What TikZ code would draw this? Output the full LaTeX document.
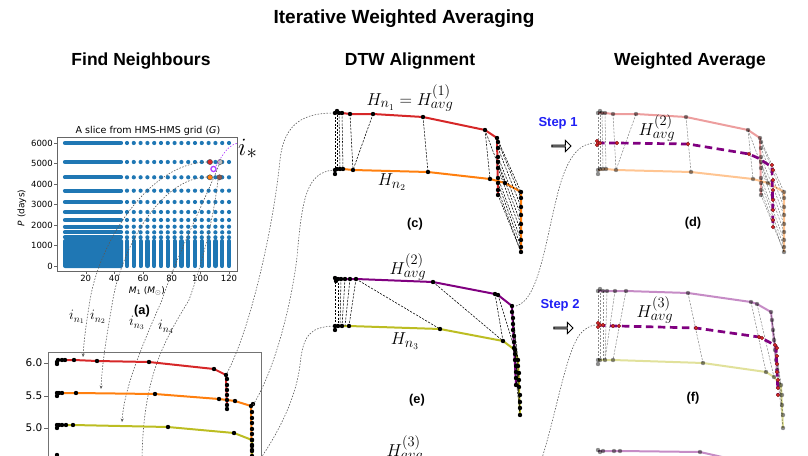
\documentclass[tikz,border=0pt]{standalone}
\usepackage{fontspec}
\usepackage{amsmath}
\newfontfamily\arialfont{Liberation Sans}
\newfontfamily\mplfont{DejaVu Sans}
\usetikzlibrary{calc,arrows.meta,shapes.arrows}

\definecolor{mplblue}{HTML}{1F77B4}
\definecolor{hred}{HTML}{D62728}
\definecolor{horange}{HTML}{FF7F0E}
\definecolor{hgreen}{HTML}{BCBD22}
\definecolor{hpurple}{HTML}{800080}
\definecolor{hbrown}{HTML}{8C564B}
\definecolor{hviolet}{HTML}{B040FF}
\definecolor{stepblue}{HTML}{1F1FF5}

\begin{document}
\begin{tikzpicture}[x=1pt, y=-1pt, >={Stealth[length=3.5pt, width=3pt]},
  heading/.style={font=\arialfont\bfseries\fontsize{19}{23}\selectfont},
  subhead/.style={font=\arialfont\bfseries\fontsize{17.5}{20}\selectfont},
  plabel/.style={font=\arialfont\bfseries\fontsize{12.8}{15}\selectfont},
  steplabel/.style={font=\arialfont\bfseries\fontsize{13}{15}\selectfont, text=stepblue},
  mlabel/.style={font=\fontsize{19}{22}\selectfont, inner sep=0pt},
  nlabel/.style={font=\fontsize{14}{16}\selectfont, inner sep=0pt},
  mpltick/.style={font=\mplfont\fontsize{8.5}{10}\selectfont, inner sep=0.5pt},
  mplbig/.style={font=\mplfont\fontsize{10.5}{12}\selectfont, inner sep=0.5pt},
  hline/.style={line width=2pt, line join=round},
  link/.style={black, line width=0.55pt, dash pattern=on 2.2pt off 1.3pt},
  guide/.style={black!65, line width=0.6pt, dash pattern=on 1.5pt off 1.5pt},
  avgline/.style={hpurple, line width=2.7pt, dash pattern=on 7.5pt off 4.5pt},
  stepmark/.style={single arrow, draw=black, line width=0.9pt, fill=white,
    minimum height=19pt, minimum width=11pt, single arrow head extend=2.5pt, inner sep=0pt},
]
  \useasboundingbox (0,0) rectangle (808,455);
  \clip (0,0) rectangle (808,455);
  % black markers of a curve, given as x/y pairs
  \newcommand{\blackdots}[1]{\foreach \xx/\yy in {#1} \fill (\xx,\yy) circle (2.2pt);}
  % red markers of the averaged curve
  \newcommand{\reddots}[1]{\foreach \xx/\yy in {#1}
    \fill[hred, draw=hred!55!black, line width=0.3pt] (\xx,\yy) circle (1.9pt);}
  % dashed DTW links, given as x1/y1/x2/y2
  \newcommand{\alignlinks}[1]{\foreach \xa/\ya/\xb/\yb in {#1} \draw[link] (\xa,\ya) -- (\xb,\yb);}
  % the aligned pair H_n1 / H_n2
  \newcommand{\pairone}{%
    \draw[hline, hred] plot coordinates {(335,113) (342,113) (350,114) (373,114) (423,117) (485,130) (497,138) (498,195)};
    \draw[hline, horange] plot coordinates {(335,170) (343,169) (353,170) (428,172) (490,179) (505,183) (521,192) (521,252)};
    \alignlinks{335/113/335/170, 337/111/337/169, 339/113/340/169, 342/113/343/169, 350/114/353/170,
      373/114/353/170, 423/117/428/172, 485/130/490/179, 485/130/505/183, 497/138/521/192, 498/142/521/198,
      498/148/521/207, 498/157/521/215, 498/162/521/224, 498/168/521/232, 498/178/521/240, 498/183/521/247,
      498/190/521/252, 498/195/521/252}
    \blackdots{335/113, 337/111, 339/113, 342/113, 350/114, 373/114, 423/117, 485/130, 497/138, 498/142,
      498/148, 498/157, 498/162, 498/168, 498/178, 498/183, 498/190, 498/195}
    \blackdots{335/170, 335/174, 337/169, 340/169, 343/169, 353/170, 428/172, 490/179, 505/183, 521/192,
      521/198, 521/207, 521/215, 521/224, 521/232, 521/240, 521/247, 521/252}
  }
  % ------------------------------------------------------------------ titles
  \node[heading] (title) at (404,19) {Iterative Weighted Averaging};
  \node[subhead] (find) at (141,61) {Find Neighbours};
  \node[subhead] (dtw) at (410,61) {DTW Alignment};
  \node[subhead] (wavg) at (690,61) {Weighted Average};
  % ------------------------------------------------------------------ (a) the grid slice
  \foreach \yy in {143,162,177.3,190.7,202,212,220,226.7,232.3,237.3} {
    \draw[mplblue, line width=4.2pt, line cap=round] (65,\yy) -- (121,\yy);
    \foreach \k in {0,...,15} \fill[mplblue] ({127+6.8*\k},\yy) circle (2.1pt);
  }
  \fill[mplblue, rounded corners=2pt] (63,239) rectangle (123,268);
  \foreach \k in {0,...,15}
    \draw[mplblue, line width=4.2pt, line cap=round] ({127+6.8*\k},241) -- ({127+6.8*\k},266);
  \draw[black!60, line width=0.8pt] (57,137) rectangle (237,271);
  \foreach \yy/\lab in {143/6000, 163.5/5000, 184/4000, 204.5/3000, 225/2000, 245.5/1000, 266/0} {
    \draw[black!60] (54,\yy) -- (57,\yy);
    \node[mpltick, anchor=east] (pt\lab) at (53.5,\yy) {\lab};
  }
  \foreach \xx/\lab in {85.7/20, 114.3/40, 143/60, 171.7/80, 200.3/100, 229/120} {
    \draw[black!60] (\xx,271) -- (\xx,274);
    \node[mpltick, anchor=north] (mt\lab) at (\xx,274.5) {\lab};
  }
  \node[font=\mplfont\fontsize{9.5}{11}\selectfont] (gtitle) at (148,130.5) {A slice from HMS-HMS grid (\textit{G})};
  \node[font=\mplfont\fontsize{9}{11}\selectfont] (mlab) at (147,291)
    {\textit{M}\textsubscript{1} (\textit{M}\textsubscript{$\odot$})};
  \node[font=\mplfont\fontsize{9}{11}\selectfont, rotate=90] (plab) at (22,208) {\textit{P} (days)};
  \node[plabel] (la) at (142,311) {(a)};
  % the query point and its four neighbours
  \fill[hred, draw=black!70, line width=0.4pt] (210,162) circle (2.6pt);
  \fill[black!25, draw=black!70, line width=0.4pt] (220,162) circle (2.6pt);
  \fill[horange, draw=black!70, line width=0.4pt] (210,177.3) circle (2.6pt);
  \fill[hbrown, draw=black!70, line width=0.4pt] (219.5,177.3) circle (2.6pt);
  \draw[hviolet, fill=white, line width=1.3pt] (213.5,169) circle (2.6pt);
  \node[font=\fontsize{30}{32}\selectfont, inner sep=0pt, anchor=base west] (istar) at (238,155) {$i_*$};
  \coordinate (ring) at (216,166);
  \coordinate (istarin) at (238,143);
  \draw[guide, hviolet] (ring) .. controls (224,152) and (229,145) .. (istarin);
  % ------------------------------------------------------------------ neighbours to their tracks
  \coordinate (nb1) at (207,162);
  \coordinate (nb2) at (207,177);
  \coordinate (nb3) at (219,165);
  \coordinate (nb4) at (218,180);
  \coordinate (on1) at (83,357);
  \coordinate (on2) at (101,389);
  \coordinate (on3) at (122,422);
  \coordinate (on4) at (142,462);
  \draw[guide, ->] (nb1) .. controls (150,163) and (100,240) .. (90,300) .. controls (86,325) and (84,340) .. (on1);
  \draw[guide, ->] (nb2) .. controls (160,178) and (120,250) .. (112,305) .. controls (106,340) and (102,365) .. (on2);
  \draw[guide, ->] (nb3) .. controls (205,200) and (175,260) .. (162,300) .. controls (140,350) and (124,390) .. (on3);
  \draw[guide, ->] (nb4) .. controls (212,230) and (198,275) .. (189,300) .. controls (165,340) and (143,375) .. (on4);
  \node[nlabel] (in1) at (77,317) {$i_{n_1}$};
  \node[nlabel] (in2) at (98,317) {$i_{n_2}$};
  \node[nlabel] (in3) at (137,323) {$i_{n_3}$};
  \node[nlabel] (in4) at (166,327) {$i_{n_4}$};
  % ------------------------------------------------------------------ (b) the neighbour tracks
  \draw[black!55, line width=0.8pt] (48,470) -- (48,352) -- (261,352) -- (261,470);
  \foreach \yy in {363,396,428} \draw[black!60] (44,\yy) -- (48,\yy);
  \node[mplbig, anchor=east] (yt60) at (43,363) {6.0};
  \node[mplbig, anchor=east] (yt55) at (43,396) {5.5};
  \node[mplbig, anchor=east] (yt50) at (43,428) {5.0};
  \draw[hline, hred] plot coordinates {(57,362) (58,360) (65,360) (74,360) (97,361) (149,362) (214,369) (226,375) (227,409)};
  \draw[hline, horange] plot coordinates {(57,396) (59,393) (76,393) (155,394) (219,399) (235,401) (251,406) (252,470)};
  \draw[hline, hgreen] plot coordinates {(57,428) (59,425) (73,425) (168,427) (234,433) (252,440) (252,470)};
  \blackdots{57/364, 57/362, 58/360, 62/360, 65/360, 74/360, 97/361, 149/362, 214/369, 226/375, 227/379,
    227/385, 227/390, 227/395, 227/400, 227/405, 227/409}
  \blackdots{57/396, 57/393, 59/393, 62/393, 76/393, 155/394, 219/399, 235/401, 251/406, 253/404, 252/412,
    252/418, 252/423, 252/429, 252/434, 252/440, 252/446, 252/451}
  \blackdots{57/428, 57/425, 59/425, 62/425, 66/425, 73/425, 168/427, 234/433, 252/440, 252/445, 252/450,
    252/456, 57/455}
  % ------------------------------------------------------------------ tracks to the DTW panels
  \coordinate (h1end) at (227,373);
  \coordinate (c1start) at (334,113);
  \coordinate (h2end) at (253,405);
  \coordinate (c2start) at (334,170);
  \coordinate (h3end) at (254,468);
  \coordinate (e3start) at (334,326);
  \draw[guide] (h1end) .. controls (250,330) and (273,230) .. (280,160) .. controls (284,122) and (305,113) .. (c1start);
  \draw[guide] (h2end) .. controls (276,368) and (292,300) .. (297,257) .. controls (302,200) and (306,172) .. (c2start);
  \draw[guide] (h3end) .. controls (285,425) and (297,390) .. (300,365) .. controls (303,335) and (310,327) .. (e3start);
  % ------------------------------------------------------------------ (c) H_n1 against H_n2
  \pairone
  \node[mlabel] (hc1) at (410,98) {$H_{n_1} = H_{avg}^{(1)}$};
  \node[mlabel] (hc2) at (392,182) {$H_{n_2}$};
  \node[plabel] (lc) at (415,224) {(c)};
  % ------------------------------------------------------------------ (e) H_avg2 against H_n3
  \draw[hline, hpurple] plot coordinates {(335,278) (341,279) (356,279) (433,282) (495,294) (498,295) (512,306) (516,385)};
  \draw[hline, hgreen] plot coordinates {(335,326) (342,326) (349,326) (440,329) (503,341) (515,350) (518,360) (520,415)};
  \alignlinks{335/278/335/326, 338/279/338/326, 341/279/340/326, 345/279/342/326, 350/279/345/326,
    356/279/349/326, 356/279/440/329, 433/282/503/341, 495/294/503/341, 498/295/515/350, 512/306/518/360,
    513/318/518/366, 513/330/519/378, 514/342/519/390, 515/354/520/402, 516/366/520/410, 516/378/520/415}
  \blackdots{335/278, 336/281, 338/279, 341/279, 345/279, 350/279, 356/279, 433/282, 495/294, 498/295,
    512/306, 512/312, 513/318, 513/324, 513/330, 514/336, 514/342, 514/348, 515/354, 515/360, 516/366,
    516/372, 516/378, 516/385}
  \blackdots{335/326, 335/330, 338/326, 342/326, 349/326, 440/329, 503/341, 515/350, 518/360, 518/366,
    519/373, 519/380, 519/387, 520/395, 520/402, 520/408, 520/415}
  \node[mlabel] (he1) at (408,267) {$H_{avg}^{(2)}$};
  \node[mlabel] (he2) at (405,341) {$H_{n_3}$};
  \node[plabel] (le) at (417,400) {(e)};
  \node[mlabel] (he3) at (405,449) {$H_{avg}^{(3)}$};
  % ------------------------------------------------------------------ (d) step 1
  \begin{scope}[shift={(263,0)}, opacity=0.45]
    \pairone
  \end{scope}
  \draw[avgline] plot coordinates {(597,143) (617,143) (688,144) (749,154) (758,158) (772,167) (773,227)};
  \reddots{597/141, 597/145, 598/143, 600/143, 617/143, 688/144, 749/154, 772/165, 773/170, 773/180,
    773/190, 773/200, 773/210, 773/220, 773/227}
  \node[mlabel] (hd) at (657,128) {$H_{avg}^{(2)}$};
  \node[plabel] (ld) at (693,223) {(d)};
  \node[steplabel] (step1) at (558,123) {Step 1};
  \node[stepmark] (go1) at (561,146) {};
  % ------------------------------------------------------------------ (f) step 2
  \begin{scope}[opacity=0.45]
    \draw[hline, hpurple] plot coordinates {(598,291) (607,291) (626,291) (688,293) (751,302) (757,304) (771,312) (777,370)};
    \draw[hline, hgreen] plot coordinates {(598,360) (613,360) (703,363) (766,372) (774,377) (781,385) (783,428)};
    \alignlinks{598/291/598/360, 600/289/600/360, 603/291/603/360, 607/291/605/360, 615/291/605/360,
      626/291/613/360, 688/293/703/363, 751/302/766/372, 757/304/774/377, 771/312/781/385, 772/320/782/395,
      773/330/782/405, 775/350/783/415, 777/370/783/428}
    \blackdots{598/291, 600/289, 603/291, 607/291, 615/291, 626/291, 688/293, 751/302, 757/304, 771/312,
      772/320, 773/330, 774/340, 775/350, 776/360, 777/370}
    \blackdots{598/360, 598/364, 600/360, 605/360, 613/360, 703/363, 766/372, 774/377, 781/385, 782/395,
      782/405, 783/415, 783/428}
    \draw[hline, hpurple] plot coordinates {(598,451) (620,451) (700,452) (780,470)};
    \blackdots{598/450, 600/452, 603/451, 614/451, 620/451, 700/452}
  \end{scope}
  \draw[avgline] plot coordinates {(598,325) (613,326) (619,326) (696,328) (759,337) (769,342) (776,346) (778,395)};
  \reddots{598/323, 598/327, 600/325, 603/325, 613/326, 619/326, 696/328, 759/337, 762/338, 775/345,
    777/348, 777/356, 777/364, 777/372, 778/380, 778/388, 778/395}
  \node[mlabel] (hf) at (655,310) {$H_{avg}^{(3)}$};
  \node[plabel] (lf) at (693,398) {(f)};
  \node[steplabel] (step2) at (560,305) {Step 2};
  \node[stepmark] (go2) at (563,328) {};
  % ------------------------------------------------------------------ averages handed on
  \coordinate (e2end) at (516,306);
  \coordinate (d2start) at (596,143);
  \coordinate (g3end) at (538,470);
  \coordinate (f3start) at (597,325);
  \draw[guide] (e2end) .. controls (540,300) and (546,235) .. (560,185) .. controls (569,155) and (580,143) .. (d2start);
  \draw[guide] (g3end) .. controls (556,420) and (566,345) .. (583,331) .. controls (589,326) and (593,325) .. (f3start);
\end{tikzpicture}
\end{document}
